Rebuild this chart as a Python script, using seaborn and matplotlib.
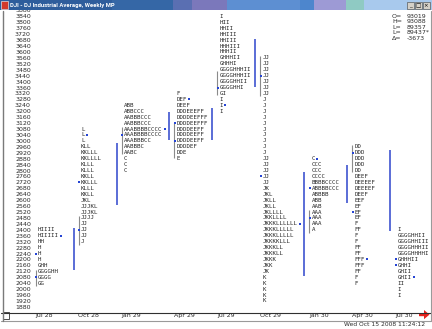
import numpy as np
import pandas as pd
import seaborn as sns
import matplotlib
matplotlib.use("Agg")
import matplotlib.pyplot as plt
from matplotlib.patches import Rectangle, Polygon
from matplotlib.lines import Line2D
import matplotlib.transforms as mtransforms

sns.set_theme(style="white")
plt.rcParams["font.family"] = ["DejaVu Sans"]

# ---------------- data ----------------
title = "DJI - DJ Industrial Average, Weekly MP"
periods = ["Jul 28", "Oct 28", "Jan 29", "Apr 29", "Jul 29", "Oct 29", "Jan 30", "Apr 30", "Jul 30"]
price_step = 40
price_levels = list(range(1880, 3881, 40))

# each profile: price of the top row, letters per row (going down one price step per row)
jul28_top = 2400
jul28_rows = ["HIIII", "HIIIII", "HH", "H", "H", "H", "GHH", "GGGGHH", "GGGG", "GG"]
jul28_marks = [(2360, "R"), (2240, "L"), (2080, "L")]
jul28_prev = (2070, 2165)
jul28_va = (2020, 2130)

oct28_top = 3080
oct28_rows = ["L", "L", "L", "KLL", "KKLLL", "KKLLLL", "KLLL", "KLLL", "KKLL", "KKLLL",
              "KLLL", "KKLL", "JKL", "JJJKL", "JJJKL", "JJJJ", "JJ", "JJ", "JJ", "J"]
oct28_marks = [(3040, "R"), (2720, "L"), (2400, "L")]
oct28_prev = (2130, 2410)
oct28_va = (2300, 2490)

jan29_top = 3240
jan29_rows = ["ABB", "ABBCCC", "AABBBCCC", "AABBBCCC", "AAABBBBCCCC", "AAABBBBCCCC",
              "AAABBBCC", "AABBBC", "AABC", "C", "C", "C"]
jan29_marks = [(3080, "R"), (3040, "L")]
jan29_prev = (2565, 2985)
jan29_va = (2910, 3095)

apr29_top = 3320
apr29_rows = ["F", "DEF", "DEEF", "DDDEEEFF", "DDDDEEFFF", "DDDDEEFFF", "DDDDEEFF",
              "DDDDEEFF", "DDDDEEFF", "DDDDEF", "DDE", "E"]
apr29_marks = [(3280, "R"), (3120, "L"), (3000, "L")]
apr29_prev = (3005, 3195)
apr29_va = (2885, 3120)

jul29_top = 3840
jul29_rows = ["I", "HII", "HHII", "HHIII", "HHIII", "HHHIII", "HHHII", "GHHHII", "GHHHI",
              "GGGGHHHII", "GGGGHHHII", "GGGGHHII", "GGGGHHI", "GI", "I", "I", "I"]
jul29_marks = [(3360, "L"), (3240, "R")]
jul29_prev = (3005, 3220)
jul29_va = (3310, 3470)

oct29_top = 3560
oct29_rows = (["JJ"] * 7 + ["J"] * 10 + ["JJ"] * 5 +
              ["JK", "JKL", "JKLL", "JKLL", "JKLLLL", "JKKLLLL", "JKKKLLLLLL", "JKKKLLLLL",
               "JKKKLLLLL", "JKKKKLLL", "JKKKLL", "JKKKLL", "JKKK", "JKK", "JK",
               "K", "K", "K", "K", "K"])
oct29_marks = [(3440, "L"), (2760, "L"), (2440, "R")]
oct29_prev = (3365, 3690)
oct29_va = (3305, 3570)

jan30_top = 2880
jan30_rows = ["C", "CCC", "CCC", "CCCC", "BBBBCCCC", "ABBBBCCC", "ABBBB", "ABB", "AAB",
              "AAA", "AAA", "AAA", "A"]
jan30_marks = [(2880, "R"), (2680, "L"), (2480, "L")]
jan30_prev = (2085, 2790)
jan30_va = (2380, 2535)

apr30_top = 2960
apr30_rows = ["DD", "DDD", "DDD", "DDD", "DD", "DEEF", "DEEEEF", "DEEEEF", "DEEF", "EEF",
              "EF", "EF", "EF", "F", "FF", "F", "F", "FF", "FF", "FFF", "FFF", "FF", "F", "F"]
apr30_marks = [(2920, "L"), (2520, "L"), (2200, "R")]
apr30_prev = (2580, 2840)
apr30_va = (2790, 2975)

jul30_top = 2400
jul30_rows = ["I", "GGGGHHII", "GGGGHHIII", "GGGGHHHII", "GGGGHHHHI", "GHHHII", "GHHI",
              "GHII", "GHII", "II", "I", "I"]
jul30_marks = [(2200, "L"), (2160, "L"), (2080, "R")]
jul30_prev = (2395, 2940)
jul30_va = None

info_labels = ["O=", "H=", "L=", "L=", "\u0394="]
info_values = ["93019", "93088", "89357", "89437*", "-3673"]
timestamp = "Wed Oct 15 2008 11:24:12"

profiles = [
    dict(top=jul28_top, rows=jul28_rows, marks=jul28_marks, prev=jul28_prev, va=jul28_va),
    dict(top=oct28_top, rows=oct28_rows, marks=oct28_marks, prev=oct28_prev, va=oct28_va),
    dict(top=jan29_top, rows=jan29_rows, marks=jan29_marks, prev=jan29_prev, va=jan29_va),
    dict(top=apr29_top, rows=apr29_rows, marks=apr29_marks, prev=apr29_prev, va=apr29_va),
    dict(top=jul29_top, rows=jul29_rows, marks=jul29_marks, prev=jul29_prev, va=jul29_va),
    dict(top=oct29_top, rows=oct29_rows, marks=oct29_marks, prev=oct29_prev, va=oct29_va),
    dict(top=jan30_top, rows=jan30_rows, marks=jan30_marks, prev=jan30_prev, va=jan30_va),
    dict(top=apr30_top, rows=apr30_rows, marks=apr30_marks, prev=apr30_prev, va=apr30_va),
    dict(top=jul30_top, rows=jul30_rows, marks=jul30_marks, prev=jul30_prev, va=jul30_va),
]

# ---------------- layout ----------------
W, H = 432, 329
fig = plt.figure(figsize=(W / 100, H / 100), dpi=100)
fig.patch.set_facecolor("white")


def fx(px):
    return px / W


def fy(py):
    return 1 - py / H


AX_L, AX_R, AX_T, AX_B = 32, 430, 10.5, 312.5
ax = fig.add_axes([fx(AX_L), fy(AX_B), fx(AX_R) - fx(AX_L), fy(AX_T) - fy(AX_B)])
ax.set_facecolor("white")
ax.set_xlim(AX_L, AX_R)  # one x unit = one pixel
ax.set_ylim(1842, 3877)

letter_font = dict(fontsize=4.15, family=["DejaVu Sans Mono", "DejaVu Sans"], color="#222222")
renderer = fig.canvas.get_renderer()

col_x = []
mark_pts = []
x = 33.0
for prof in profiles:
    col_x.append(x)
    maxw = 0.0
    for i, s in enumerate(prof["rows"]):
        p = prof["top"] - price_step * i
        t = ax.text(x + 5, p, s, ha="left", va="center", zorder=3, **letter_font)
        w = t.get_window_extent(renderer).width
        extra = 0.0
        for mp, side in prof["marks"]:
            if side == "R" and mp == p:
                mark_pts.append((x + 5 + w + 2.0, p))
                extra = 3.5
        maxw = max(maxw, w + extra)
    for mp, side in prof["marks"]:
        if side == "L":
            mark_pts.append((x + 3.2, mp))
    x = max(x + 43, x + 5 + maxw + 5.5)

# column dotted guides
dots = pd.DataFrame([(cx, p) for cx in col_x for p in price_levels], columns=["x", "price"])
sns.scatterplot(data=dots, x="x", y="price", marker="s", s=0.22, color="#c2c4d0",
                linewidth=0, ax=ax, zorder=1, legend=False)

# value-area bars
for cx, prof in zip(col_x, profiles):
    if prof["prev"] is not None:
        ax.vlines(cx - 2.5, prof["prev"][0], prof["prev"][1], color="#5a6cd6", lw=1.4, zorder=2)
    if prof["va"] is not None:
        ax.vlines(cx + 2.6, prof["va"][0], prof["va"][1], color="#8a8a8a", lw=0.8, zorder=2)

# open/close markers
marks = pd.DataFrame(mark_pts, columns=["x", "price"])
sns.scatterplot(data=marks, x="x", y="price", marker="s", s=2.6, color="#2544d4",
                linewidth=0, ax=ax, zorder=4, legend=False)

ax.set_xlim(AX_L, AX_R)
ax.set_ylim(1842, 3877)
ax.set_xlabel("")
ax.set_ylabel("")
ax.grid(False)
for sp in ax.spines.values():
    sp.set_visible(False)

ax.set_yticks(price_levels, labels=[str(v) for v in price_levels])
ax.tick_params(axis="y", length=0, pad=0.8, labelsize=4.5, labelcolor="#2a2a2a")
ax.set_xticks(col_x, labels=periods)
ax.tick_params(axis="x", length=4.4, width=0.6, color="#222222", direction="out",
               pad=-1.9, labelsize=4.5, labelcolor="#2a2a2a")
shift = mtransforms.ScaledTranslation(2.5 / 100, 0, fig.dpi_scale_trans)
for lbl in ax.get_xticklabels():
    lbl.set_horizontalalignment("left")
    lbl.set_verticalalignment("center")
    lbl.set_transform(lbl.get_transform() + shift)

# info block
for i, (lab, val) in enumerate(zip(info_labels, info_values)):
    yy = 16 + 5.6 * i
    fig.text(fx(392), fy(yy), lab, fontsize=4.5, color="#2a2a2a", va="center", ha="left")
    fig.text(fx(407), fy(yy), val, fontsize=4.5, color="#2a2a2a", va="center", ha="left")

# window frame lines / bottom band
fig.add_artist(Line2D([fx(1), fx(431)], [fy(312.5), fy(312.5)], color="#303030", lw=0.8))
fig.add_artist(Line2D([fx(1), fx(431)], [fy(320.5), fy(320.5)], color="#9a9a9a", lw=0.8))
fig.add_artist(Line2D([fx(2.5), fx(2.5)], [fy(10.5), fy(320.5)], color="#7a7a7a", lw=1.0))
fig.add_artist(Line2D([fx(431), fx(431)], [fy(10.5), fy(320.5)], color="#9a9a9a", lw=0.8))
fig.add_artist(Rectangle((fx(3), fy(319)), fx(6), fy(312.5) - fy(319), transform=fig.transFigure,
                         facecolor="white", edgecolor="#303030", lw=0.6))
fig.text(fx(425), fy(324.8), timestamp, fontsize=4.3, color="#2a2a2a", ha="right", va="center")

# red arrow
arrow_px = [(419, 313), (424, 313), (424, 310), (429.5, 314.6), (424, 319.2), (424, 316.2), (419, 316.2)]
fig.add_artist(Polygon([(fx(a), fy(b)) for a, b in arrow_px], closed=True, transform=fig.transFigure,
                       facecolor="#e8231c", edgecolor="none"))

# title bar
tax = fig.add_axes([0, fy(AX_T), 1, fy(0) - fy(AX_T)])
tax.set_xlim(0, W)
tax.set_ylim(AX_T, 0)
tax.axis("off")
segments = [(0, 112, "#2e5d9c"), (112, 173, "#3567a6"), (173, 192, "#5a6fb2"), (192, 227, "#7b78bb"),
            (227, 300, "#5d8fd2"), (300, 314, "#4d86cd"), (314, 346, "#9d9ad5"),
            (346, 364, "#8fcac3"), (364, 432, "#a8c9ed")]
strip = np.zeros((1, W, 3))
for a, b, c in segments:
    strip[0, a:b, :] = matplotlib.colors.to_rgb(c)
tax.imshow(strip, extent=(0, W, AX_T, 0), aspect="auto", interpolation="nearest")
tax.add_patch(Rectangle((1, 1.2), 7, 7.6, facecolor="#d33a2c", edgecolor="#ffffff", lw=0.4))
tt = tax.text(10, 5.4, title, color="white", fontsize=4.6, fontweight="bold", va="center", ha="left",
              family=["Roboto", "DejaVu Sans"])
tw = tt.get_window_extent(renderer).width
if tw > 104:
    tt.set_fontsize(4.6 * 104 / tw)
for bx, glyph in [(406.5, "_"), (414.5, "\u25a1"), (422.5, "\u00d7")]:
    tax.add_patch(Rectangle((bx, 2), 7, 7, facecolor="#d4d0c8", edgecolor="#404040", lw=0.4))
    tax.text(bx + 3.5, 5.6, glyph, fontsize=4, color="black", ha="center", va="center")

fig.savefig("out.png", dpi=100, facecolor="white")
